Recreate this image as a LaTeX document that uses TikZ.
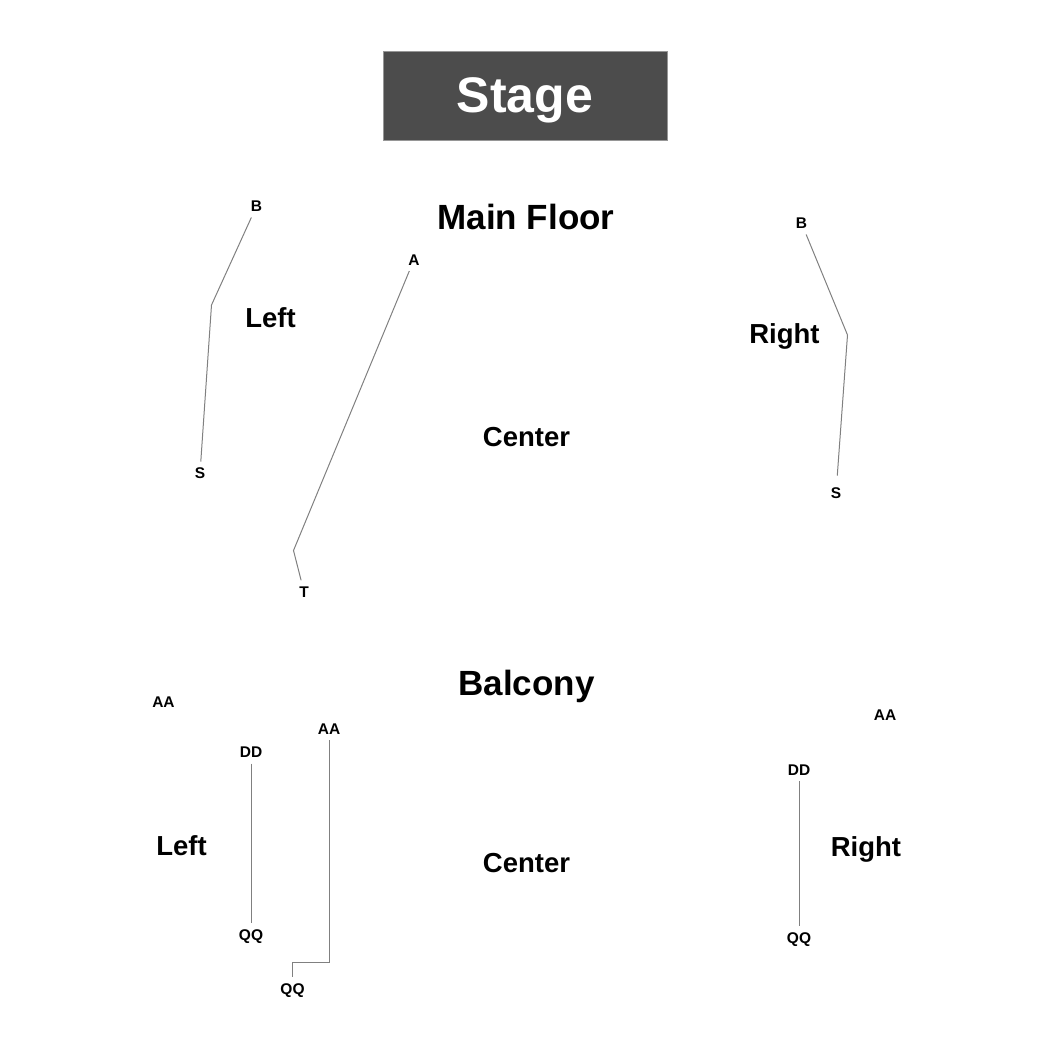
\documentclass[tikz,border=0pt]{standalone}
\usepackage{fontspec}
\setmainfont{Liberation Sans}
\definecolor{stagegray}{RGB}{76,76,76}
\definecolor{stageedge}{RGB}{150,150,150}
\definecolor{linegray}{RGB}{128,128,128}
\tikzset{
  stagebox/.style={fill=stagegray, draw=stageedge, line width=0.8pt, text=white,
    font=\bfseries\fontsize{50pt}{54pt}\selectfont,
    minimum width=284pt, minimum height=89pt, text height=34pt, text depth=0pt},
  rowlabel/.style={font=\bfseries\fontsize{15.5pt}{17pt}\selectfont, anchor=base, inner sep=3pt, outer sep=3pt},
  arealabel/.style={font=\bfseries\fontsize{27.5pt}{30pt}\selectfont, anchor=base},
  levellabel/.style={font=\bfseries\fontsize{35pt}{38pt}\selectfont, anchor=base},
  rowline/.style={draw=linegray, line width=1pt},
}
\begin{document}
\begin{tikzpicture}[x=1pt, y=-1pt]
    \useasboundingbox (0,0) rectangle (1050,1050);
    % stage
    \node[stagebox] (stage) at (525,95.5) {Stage};

    % main floor
    \node[levellabel] (mainfloor) at (526,229) {Main Floor};
    \node[arealabel] (mfleft) at (270.5,327) {Left};
    \node[arealabel] (mfcenter) at (526.5,446) {Center};
    \node[arealabel] (mfright) at (784.5,343.5) {Right};
    % main floor rows, left
    \node[rowlabel] (mlB) at (256.5,211.5) {B};
    \node[rowlabel] (mlS) at (200,478.5) {S};
    \coordinate (mlbend) at (211.5,305);
    \draw[rowline] (mlB) -- (mlbend) -- (mlS);
    % main floor rows, center
    \node[rowlabel] (mcA) at (414,265) {A};
    \node[rowlabel] (mcT) at (304,597) {T};
    \coordinate (mcbend) at (293.5,550.5);
    \draw[rowline] (mcA) -- (mcbend) -- (mcT);
    % main floor rows, right
    \node[rowlabel] (mrB) at (801.5,228.5) {B};
    \node[rowlabel] (mrS) at (836,498.5) {S};
    \coordinate (mrbend) at (847.5,335);
    \draw[rowline, shorten >=6pt] (mrB) -- (mrbend) -- (mrS);

    % balcony
    \node[levellabel] (balcony) at (526.5,695) {Balcony};
    \node[arealabel] (bleft) at (181.5,855.5) {Left};
    \node[arealabel] (bcenter) at (526.5,872) {Center};
    \node[arealabel] (bright) at (866,856) {Right};
    % balcony rows, left
    \node[rowlabel] (blAA) at (163.5,707) {AA};
    \node[rowlabel] (blDD) at (251,757.5) {DD};
    \node[rowlabel] (blQQ) at (251,940) {QQ};
    \draw[rowline] (blDD) -- (blQQ);
    % balcony rows, center
    \node[rowlabel] (bcAA) at (329,734) {AA};
    \node[rowlabel] (bcQQ) at (292.5,994) {QQ};
    \coordinate (bcbendA) at (329,962);
    \coordinate (bcbendB) at (292.5,962);
    \draw[rowline] (bcAA) -- (bcbendA) -- (bcbendB) -- (bcQQ);
    % balcony rows, right
    \node[rowlabel] (brAA) at (885,720) {AA};
    \node[rowlabel] (brDD) at (799,775) {DD};
    \node[rowlabel] (brQQ) at (799,943) {QQ};
    \draw[rowline] (brDD) -- (brQQ);
\end{tikzpicture}
\end{document}
